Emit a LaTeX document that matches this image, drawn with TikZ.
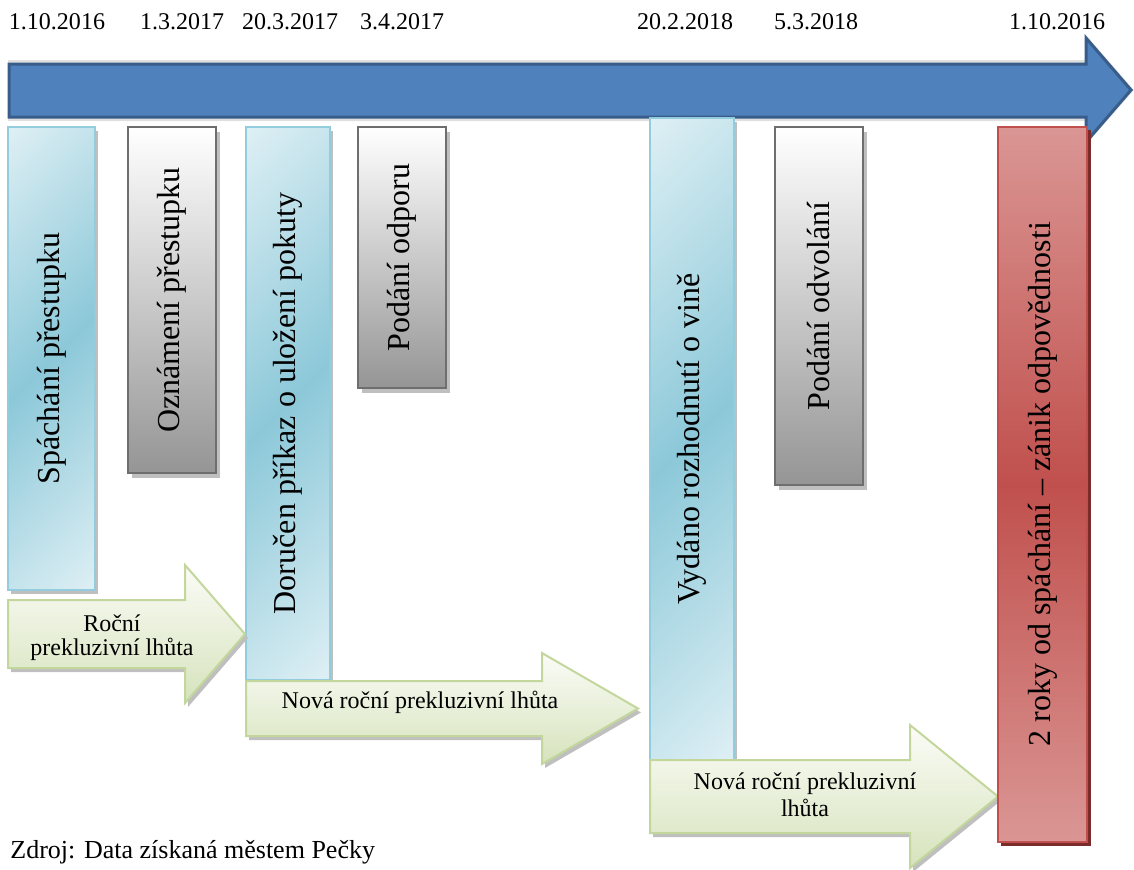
\documentclass[tikz,border=0pt]{standalone}
\usepackage{fontspec}
\setmainfont{Liberation Serif}

\definecolor{timeblue}{HTML}{4F81BD}
\definecolor{timeblueline}{HTML}{385D8A}
\definecolor{boxbluelt}{HTML}{DDEFF4}
\definecolor{boxbluedk}{HTML}{8CC8D9}
\definecolor{boxblueline}{HTML}{93CDDD}
\definecolor{boxgrayline}{HTML}{6E6E6E}
\definecolor{boxgraydk}{HTML}{959595}
\definecolor{redlt}{HTML}{DA9694}
\definecolor{reddk}{HTML}{C0504D}
\definecolor{redshadow}{HTML}{7B2B29}
\definecolor{greenlt}{HTML}{FBFCF7}
\definecolor{greendk}{HTML}{D6E3BC}
\definecolor{greenline}{HTML}{C3D69B}

\pgfdeclareverticalshading{bluediag}{100bp}{color(0bp)=(boxbluelt); color(15bp)=(boxbluelt); color(50bp)=(boxbluedk); color(85bp)=(boxbluelt); color(100bp)=(boxbluelt)}

\begin{document}
\begin{tikzpicture}[x=0.5pt,y=-0.5pt,
  datum/.style={font=\fontsize{12}{14}\selectfont},
  boxtext/.style={rotate=90,font=\fontsize{16}{19}\selectfont},
  arrowtext/.style={align=center,font=\fontsize{12}{13}\selectfont},
  bluebox/.style={shading=bluediag,shading angle=45,draw=boxblueline,line width=0.6pt},
  graybox/.style={top color=white,bottom color=boxgraydk,draw=boxgrayline,line width=1pt},
  redbox/.style={top color=redlt,bottom color=redlt,middle color=reddk,draw=reddk,line width=0.8pt},
  greenarrow/.style={top color=greenlt,bottom color=greendk,draw=greenline,line width=1pt},
  boxshadow/.style={fill=black!25}]
	\useasboundingbox (0,0) rectangle (1134,869);
	\clip (0,0) rectangle (1134,869);

	% time axis
	\fill[black!12] (8,60) -- (1085,60) -- (1085,34) -- (1134,90) -- (1085,146) -- (1085,121) -- (8,121) -- cycle;
	\draw[fill=timeblue,draw=timeblueline,line width=1.5pt] (9,64) -- (1086,64) -- (1086,38) -- (1131,90) -- (1086,142) -- (1086,117) -- (9,117) -- cycle;
	\foreach \x/\d [count=\i] in {57/1.10.2016,182/1.3.2017,290/20.3.2017,402/3.4.2017,685/20.2.2018,816/5.3.2018,1057/1.10.2016}
	\node[datum] (datum\i) at (\x,22) {\d};

	% events
	\foreach \xa/\ya/\xb/\yb/\nm/\txt in {128/127/216/473/oznam/{Oznámení přestupku},358/127/446/388/odpor/{Podání odporu},775/127/863/485/odvol/{Podání odvolání}}{
		\fill[boxshadow] (\xa+4,\ya+5) rectangle (\xb+4,\yb+5);
		\shade[graybox] (\xa,\ya) rectangle (\xb,\yb);
		\node[boxtext] (\nm) at ({(\xa+\xb)/2},{(\ya+\yb)/2}) {\txt};
	}
	\foreach \xa/\ya/\xb/\yb/\nm/\txt in {8/127/95/590/spach/{Spáchání přestupku},246/127/330/680/doruc/{Doručen příkaz o uložení pokuty},650/118/734/760/vydano/{Vydáno rozhodnutí o vině}}{
		\fill[boxshadow] (\xa+3,\ya+4) rectangle (\xb+3,\yb+4);
		\shade[bluebox] (\xa,\ya) rectangle (\xb,\yb);
		\node[boxtext] (\nm) at ({(\xa+\xb)/2},{(\ya+\yb)/2}) {\txt};
	}

	% deadlines
	\foreach \xa/\ya/\yb/\xh/\yh/\xt in {8/600/668/185/565/245,246/681/736/542/653/638,650/760/833/910/725/998}{
		\fill[boxshadow,shift={(3,4)}] (\xa,\ya) -- (\xh,\ya) -- (\xh,\yh) -- (\xt,{(\ya+\yb)/2}) -- (\xh,{\ya+\yb-\yh}) -- (\xh,\yb) -- (\xa,\yb) -- cycle;
		\shade[greenarrow] (\xa,\ya) -- (\xh,\ya) -- (\xh,\yh) -- (\xt,{(\ya+\yb)/2}) -- (\xh,{\ya+\yb-\yh}) -- (\xh,\yb) -- (\xa,\yb) -- cycle;
	}
	\node[arrowtext,font=\fontsize{12}{12}\selectfont] (lhuta1) at (112,638) {Roční\\prekluzivní lhůta};
	\node[arrowtext] (lhuta2) at (420,702) {Nová roční prekluzivní lhůta};
	\node[arrowtext,font=\fontsize{12}{13.5}\selectfont] (lhuta3) at (805,795) {Nová roční prekluzivní\\lhůta};

	% end of liability
	\fill[redshadow] (1001,130) rectangle (1091,846);
	\shade[redbox] (998,127) rectangle (1087,842);
	\node[boxtext] (zanik) at (1042.5,484) {2 roky od spáchání – zánik odpovědnosti};

	\node[anchor=base west,inner sep=0pt,font=\fontsize{13}{15}\selectfont] (zdroj) at (10,858) {Zdroj: Data získaná městem Pečky};
\end{tikzpicture}
\end{document}
